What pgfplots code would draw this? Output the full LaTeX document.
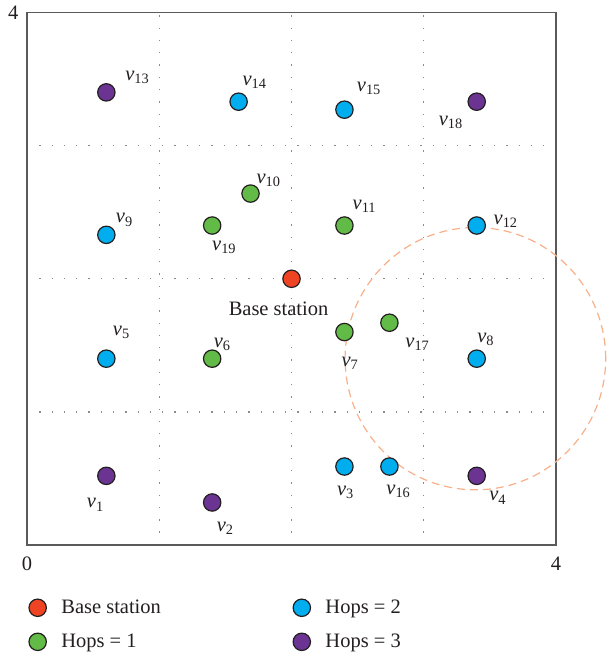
\documentclass[border=0pt]{standalone}
\usepackage{fontspec}
\setmainfont{Liberation Serif}
\usepackage{pgfplots}
\pgfplotsset{compat=1.18}

\definecolor{bsred}{HTML}{EE4423}
\definecolor{hopone}{HTML}{62BB46}
\definecolor{hoptwo}{HTML}{00AEEF}
\definecolor{hopthree}{HTML}{6B3493}
\definecolor{edge}{HTML}{231F20}
\definecolor{txt}{HTML}{231F20}
\definecolor{axgray}{HTML}{5A5A5A}
\definecolor{gridgray}{HTML}{8C8C8C}
\definecolor{rangecol}{HTML}{F7B08A}

\pgfplotsset{
  sensor/.style={only marks, mark=*, mark size=8.7pt,
    mark options={draw=edge, line width=1.2pt, fill=#1},
    legend image code/.code={\draw[##1] plot coordinates {(0pt,0pt)};
      \path (-9.3pt,0pt) (16pt,0pt);}},
}

% node labels: position, index, x and y offset (pt)
\newcommand{\vlab}[4]{\node[text=txt, inner sep=0pt, xshift=#3pt, yshift=#4pt] at (axis cs:#1) {\textit{v}\textsubscript{#2}};}

\begin{document}
\begin{tikzpicture}[font=\fontsize{20.5}{24}\selectfont]
\begin{axis}[
  scale only axis, width=529.5pt, height=533pt,
  xmin=0, xmax=4, ymin=0, ymax=4,
  xtick={0,4}, ytick={4},
  minor xtick={1,2,3}, minor ytick={1,2,3},
  xminorgrids=true, yminorgrids=true,
  minor grid style={draw=gridgray, line width=1.3pt, dash pattern=on 1.3pt off 11pt},
  major tick length=0pt, minor tick length=0pt,
  axis line style={draw=axgray, line width=1.6pt},
  /pgf/number format/assume math mode=true,
  tick label style={text=txt},
  xticklabel shift=8pt, yticklabel shift=5pt,
  clip=false,
  legend columns=2,
  legend cell align=left,
  legend style={draw=none, fill=none, inner sep=0pt,
    at={(0,0)}, anchor=north west, xshift=1pt, yshift=-53pt,
    nodes={inner xsep=7.5pt, inner ysep=2pt, text=txt},
    /tikz/every even column/.append style={column sep=124pt},
    row sep=15pt},
]
\coordinate (bl) at (rel axis cs:0,0);
\coordinate (tr) at (rel axis cs:1,1);

% transmission range of v8
\draw[rangecol, line width=1.2pt, dash pattern=on 8pt off 5pt]
  (axis cs:3.39,1.4) circle [radius=0.985];

\addplot[sensor=bsred] table {
x y
2.00 2.00
};
\addlegendentry{Base station}

\addplot[sensor=hoptwo] table {
x y
1.60 3.33
2.40 3.27
0.60 2.33
3.40 2.40
0.60 1.40
3.40 1.40
2.40 0.59
2.74 0.59
};
\addlegendentry{Hops = 2}

\addplot[sensor=hopone] table {
x y
1.69 2.64
1.40 2.40
2.40 2.40
2.40 1.60
2.74 1.67
1.40 1.40
};
\addlegendentry{Hops = 1}

\addplot[sensor=hopthree] table {
x y
0.60 3.40
3.40 3.33
0.60 0.52
1.40 0.32
3.40 0.52
};
\addlegendentry{Hops = 3}

\node[text=txt, inner sep=0pt, xshift=-13pt, yshift=-30pt] at (axis cs:2,2) {Base station};
\vlab{0.6,3.4}{13}{31}{15}
\vlab{1.6,3.33}{14}{16}{19}
\vlab{2.4,3.27}{15}{24.5}{21}
\vlab{3.4,3.33}{18}{-26}{-21}
\vlab{1.69,2.64}{10}{18}{13}
\vlab{0.6,2.33}{9}{18}{15}
\vlab{1.4,2.4}{19}{12}{-22}
\vlab{2.4,2.4}{11}{20}{19}
\vlab{3.4,2.4}{12}{29}{4}
\vlab{0.6,1.4}{5}{15}{26}
\vlab{1.4,1.4}{6}{10}{14}
\vlab{2.4,1.6}{7}{5.5}{-31}
\vlab{2.74,1.67}{17}{28}{-22}
\vlab{3.4,1.4}{8}{9}{19}
\vlab{0.6,0.52}{1}{-11}{-29}
\vlab{1.4,0.32}{2}{13}{-26}
\vlab{2.4,0.59}{3}{1}{-26}
\vlab{2.74,0.59}{16}{9}{-25}
\vlab{3.4,0.52}{4}{21}{-22}
\end{axis}
\pgfresetboundingbox
\path ([shift={(-27pt,-108pt)}]bl) rectangle ([shift={(50pt,12.5pt)}]tr);
\end{tikzpicture}
\end{document}
